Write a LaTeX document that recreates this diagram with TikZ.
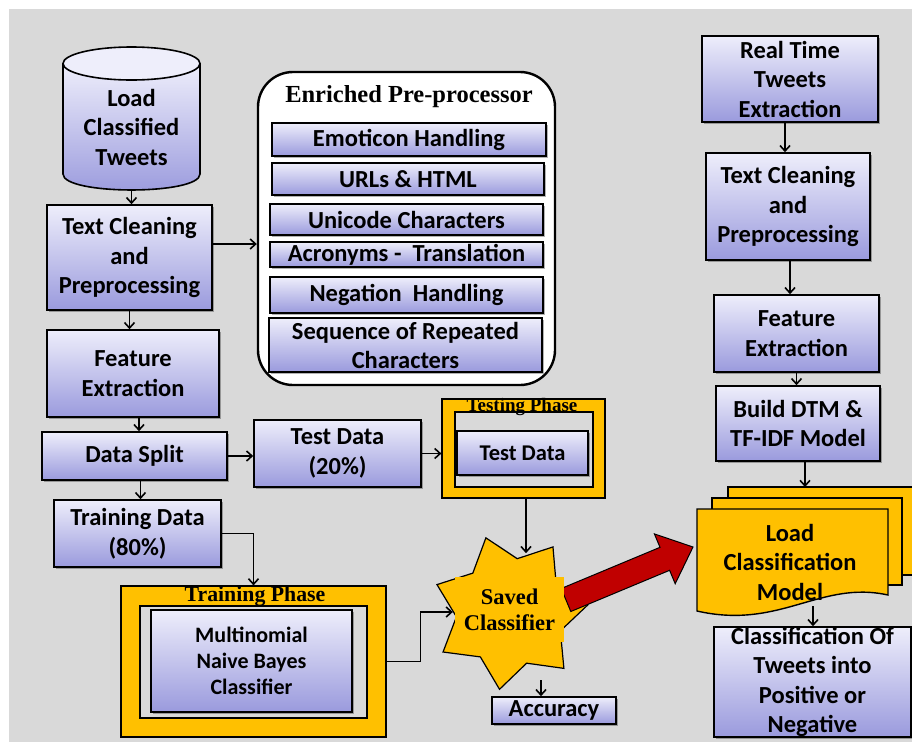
\documentclass[tikz,border=0pt]{standalone}
\usepackage{fontspec}
\setmainfont{Carlito}
\newfontfamily\tnr{Liberation Serif}
\usetikzlibrary{arrows.meta,shapes.geometric,shadows}
\definecolor{bg}{HTML}{D9D9D9}
\definecolor{gold}{HTML}{FFC000}
\definecolor{dred}{HTML}{C00000}
\definecolor{btop}{HTML}{EEEEFB}
\definecolor{bmid}{HTML}{B8B8EC}
\definecolor{bbot}{HTML}{9A9ADD}
\tikzset{
  box/.style={draw=black, line width=1.6pt, top color=btop, middle color=bmid, bottom color=bbot,
    drop shadow={shadow xshift=2pt, shadow yshift=-2pt, fill=black, opacity=0.3},
    align=center, inner sep=0pt, font=\bfseries\fontsize{24.5}{29.5}\selectfont},
  ebox/.style={box, font=\bfseries\fontsize{24.5}{29}\selectfont},
  phase/.style={draw=black, line width=1.2pt, fill=gold, inner sep=0pt},
  inner/.style={draw=black, line width=1.4pt, fill=bg},
  ttl/.style={font=\tnr\bfseries, inner sep=0pt, anchor=base},
  arr/.style={line width=1.6pt, -{Straight Barb[length=5.5pt,width=10pt]}},
}
\begin{document}
\begin{tikzpicture}[x=1pt,y=-1pt]
\clip (0,0) rectangle (912,742);
\fill[white] (0,0) rectangle (912,742);
\fill[bg] (9,9) rectangle (912,742);

% ---------- left column ----------
\shade[top color=btop, middle color=bmid, bottom color=bbot]
  (63,63.5) -- (63,174) .. controls (63,195.3) and (200,195.3) .. (200,174) -- (200,63.5) -- cycle;
\draw[line width=1.6pt] (63,63.5) -- (63,174) .. controls (63,195.3) and (200,195.3) .. (200,174) -- (200,63.5);
\filldraw[fill=btop, line width=1.6pt] (131.5,63.5) ellipse [x radius=68.5pt, y radius=16.5pt];
\node[align=center, inner sep=0pt, font=\bfseries\fontsize{24.5}{29.5}\selectfont] (cyl) at (131.5,127) {Load\\Classified\\Tweets};
\coordinate (cylbot) at (131.5,190);

\node[box, minimum width=165, minimum height=105] (tc1) at (129.5,257.5) {Text Cleaning\\and\\Preprocessing};
\node[box, minimum width=172, minimum height=87] (fe1) at (133,373.5) {Feature\\Extraction};
\node[box, minimum width=185, minimum height=48] (ds) at (134.5,456) {Data Split};
\node[box, minimum width=167, minimum height=67] (td) at (337.5,453.5) {Test Data\\(20\%)};
\node[box, minimum width=167, minimum height=67] (trd) at (137.5,533.5) {Training Data\\(80\%)};

% Training phase
\node[phase, minimum width=265, minimum height=151] (trp) at (253.5,661.5) {};
\draw[inner] (140,606) rectangle (367,718);
\node[box, minimum width=201, minimum height=102, font=\bfseries\fontsize{22}{26}\selectfont] (mnb) at (251.5,661) {Multinomial\\Naive Bayes\\Classifier};
\node[ttl, font=\tnr\bfseries\fontsize{21.8}{24}\selectfont] at (255,601) {Training Phase};

% Enriched pre-processor
\node[draw=black, line width=2.4pt, fill=white, rounded corners=35pt, minimum width=297, minimum height=313, inner sep=0pt] (enr) at (406.5,228.5) {};
\node[ttl, font=\tnr\bfseries\fontsize{24.5}{28}\selectfont] at (409,102) {Enriched Pre-processor};
\node[ebox, minimum width=274, minimum height=33] (e1) at (409,139.5) {Emoticon Handling};
\node[ebox, minimum width=272, minimum height=32] (e2) at (408,179) {URLs \& HTML};
\node[ebox, minimum width=273, minimum height=31] (e3) at (406.5,219.5) {Unicode Characters};
\node[ebox, minimum width=273, minimum height=25] (e4) at (406.5,254.5) {Acronyms -\ \ Translation};
\node[ebox, minimum width=273, minimum height=36] (e5) at (406.5,295) {Negation\ \ Handling};
\node[ebox, minimum width=273, minimum height=54] (e6) at (405.5,345) {Sequence of Repeated\\Characters};

% Testing phase
\node[phase, minimum width=163, minimum height=99] (tph) at (523.5,448.5) {};
\draw[inner] (455,412) rectangle (593,487);
\node[box, minimum width=131, minimum height=44, font=\bfseries\fontsize{22.5}{26}\selectfont] (tdin) at (522.5,453) {Test Data};
\node[ttl, font=\tnr\bfseries\fontsize{19}{22}\selectfont] at (522,411) {Testing Phase};

% Saved classifier
\node[star, star points=7, star point ratio=1.45, minimum size=156, shape border rotate=18, fill=gold, draw=black, line width=1.2pt, inner sep=0pt] (star) at (510,612) {};
\filldraw[fill=dred, draw=black, line width=1pt] (561.2,588.5) -- (660,547.3) -- (654.4,533.9) -- (693,547) -- (675.2,583.7) -- (669.6,570.3) -- (570.8,611.5) -- cycle;
\node[fill=gold, minimum width=109, minimum height=65, inner sep=0pt, align=center, font=\tnr\bfseries\fontsize{22.5}{26}\selectfont] (sc) at (509.5,609.5) {Saved\\Classifier};
\node[box, minimum width=124, minimum height=27] (acc) at (554,710.5) {Accuracy};

% ---------- right column ----------
\node[box, minimum width=176, minimum height=86] (rt) at (790,79) {Real Time\\Tweets\\Extraction};
\node[box, minimum width=164, minimum height=107] (tc2) at (788,206.5) {Text Cleaning\\and\\Preprocessing};
\node[box, minimum width=165, minimum height=77] (fe2) at (796.5,333.5) {Feature\\Extraction};
\node[box, minimum width=164, minimum height=75] (dtm) at (798,423.5) {Build DTM \&\\TF-IDF Model};

\filldraw[fill=gold, line width=1.4pt] (728,487) rectangle (925,575);
\filldraw[fill=gold, line width=1.4pt] (712,498) rectangle (902,585);
\filldraw[fill=gold, line width=1.4pt] (697,509) -- (888,509) -- (888,595) .. controls (820,580) and (780,630) .. (697,611) -- cycle;
\node[align=center, inner sep=0pt, font=\bfseries\fontsize{24.5}{29.5}\selectfont] (doc) at (790,562) {Load\\Classification\\Model};
\coordinate (doctop) at (805,487);
\coordinate (docbot) at (813,606);

\node[box, minimum width=197, minimum height=110] (cls) at (812.5,682) {Classification Of\\Tweets into\\Positive or\\Negative};

% ---------- connectors ----------
\draw[arr] (cylbot) -- (cylbot |- tc1.north);
\draw[arr] ([yshift=13.5pt]tc1.east) -- ([yshift=13.5pt]tc1.east -| enr.west);
\draw[arr] (tc1.south) -- (tc1.south |- fe1.north);
\draw[arr] ([xshift=6pt]fe1.south) -- ([xshift=6pt]fe1.south |- ds.north);
\draw[arr] ([xshift=6pt]ds.south) -- ([xshift=6pt]ds.south |- trd.north);
\draw[arr] (ds.east) -- (ds.east -| td.west);
\draw[arr] (td.east) -- (td.east -| tph.west);
\draw[arr] (trd.east) -| (trp.north);
\draw[arr] (trp.east) -- ++(34,0) |- (star.west);
\draw[arr] ([xshift=2.5pt]tph.south) -- ([xshift=2.5pt]tph.south |- star.north);
\draw[arr] ([xshift=-13pt]acc.north |- star.south) -- ([xshift=-13pt]acc.north);

\draw[arr] ([xshift=-5pt]rt.south) -- ([xshift=-5pt]rt.south |- tc2.north);
\draw[arr] ([xshift=2pt]tc2.south) -- ([xshift=2pt]tc2.south |- fe2.north);
\draw[arr] (fe2.south) -- (fe2.south |- dtm.north);
\draw[arr] (doctop |- dtm.south) -- (doctop);
\draw[arr] (docbot) -- (docbot |- cls.north);
\end{tikzpicture}
\end{document}
